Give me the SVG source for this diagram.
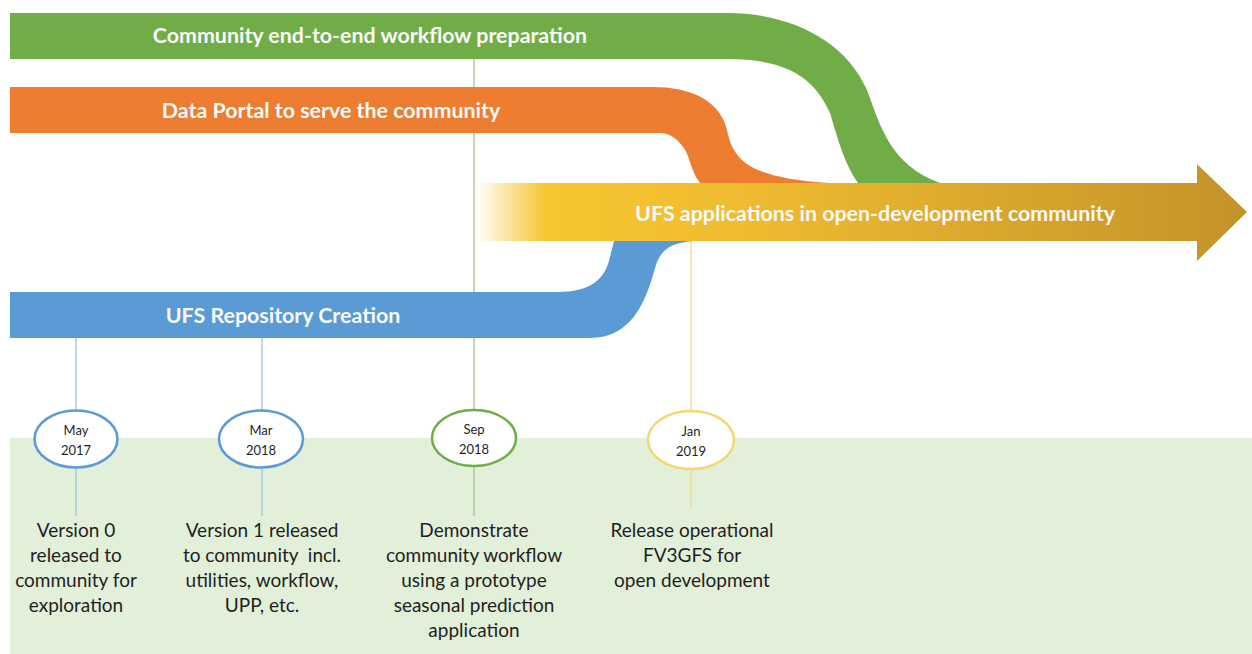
<svg xmlns="http://www.w3.org/2000/svg" width="1252" height="654" viewBox="0 0 1252 654">
<defs>
<linearGradient id="gold" x1="476" y1="0" x2="1247" y2="0" gradientUnits="userSpaceOnUse">
<stop offset="0" stop-color="#FFFFFF"/>
<stop offset="0.09" stop-color="#F7C631"/>
<stop offset="0.35" stop-color="#F0BB30"/>
<stop offset="1" stop-color="#C3932A"/>
</linearGradient>
<style>
.band{font-family:Lato,"Open Sans",sans-serif;font-weight:700;font-size:21.4px;fill:#FAFAFA;text-anchor:middle}
.date{font-family:Lato,"Open Sans",sans-serif;font-size:13px;fill:#1F1F1F;text-anchor:middle}
.desc{font-family:Lato,"Open Sans",sans-serif;font-size:19px;fill:#1F1F1F;text-anchor:middle}
.lnk{fill:none;stroke-width:1.3}
</style>
</defs>
<rect x="0" y="0" width="1252" height="654" fill="#FFFFFF"/>
<rect id="bg-green" x="10" y="438" width="1242" height="216" fill="#E2EFD9"/>
<g id="connectors">
<line class="lnk" x1="474" y1="59" x2="474" y2="410" stroke="#A3C48C"/>
<line class="lnk" x1="474" y1="466" x2="474" y2="516" stroke="#A3C48C"/>
<line class="lnk" x1="76" y1="338" x2="76" y2="410" stroke="#9DC3E6"/>
<line class="lnk" x1="76" y1="468" x2="76" y2="516" stroke="#9DC3E6"/>
<line class="lnk" x1="262" y1="338" x2="262" y2="410" stroke="#9DC3E6"/>
<line class="lnk" x1="262" y1="468" x2="262" y2="516" stroke="#9DC3E6"/>
<line class="lnk" x1="691" y1="241" x2="691" y2="411" stroke="#F5D98A"/>
<line class="lnk" x1="691" y1="469" x2="691" y2="508" stroke="#F5D98A"/>
</g>
<g id="green-band">
<path d="M10,13 H727 C790,13 845,40 867,90 C880,125 890,165 940,183 L858,183 C845,165 838,140 830,113 C815,80 790,59 727,59 H10 Z" fill="#70AD47"/>
<text class="band" x="370" y="43">Community end-to-end workflow preparation</text>
</g>
<g id="orange-band">
<path d="M10,87 H653 C690,87 720,100 727,130 C733,158 745,178 830,183 L700,183 C690,170 690,155 683,147 C676,137 668,133 660,133 H10 Z" fill="#ED7D31"/>
<text class="band" x="331" y="118">Data Portal to serve the community</text>
</g>
<g id="blue-band">
<path d="M10,292 H557 C590,292 605,280 610,257 L614,241 H693 C670,243 660,250 655,268 C645,305 630,338 590,338 H10 Z" fill="#5B9BD5"/>
<text class="band" x="283" y="323">UFS Repository Creation</text>
</g>
<g id="ufs-arrow">
<path d="M476,183 H1197 V164 L1247,212 L1197,261 V241 H476 Z" fill="url(#gold)"/>
<text class="band" x="875" y="221">UFS applications in open-development community</text>
</g>
<g id="m-may2017">
<ellipse cx="76" cy="439" rx="41.5" ry="28.5" fill="#FFFFFF" stroke="#5B9BD5" stroke-width="2.5"/>
<text class="date" x="76" y="435">May</text>
<text class="date" x="76" y="455">2017</text>
<text class="desc" x="76" y="537">Version 0</text>
<text class="desc" x="76" y="562">released to</text>
<text class="desc" x="76" y="587">community for</text>
<text class="desc" x="76" y="612">exploration</text>
</g>
<g id="m-mar2018">
<ellipse cx="261" cy="439" rx="42" ry="28.5" fill="#FFFFFF" stroke="#5B9BD5" stroke-width="2.5"/>
<text class="date" x="261" y="435">Mar</text>
<text class="date" x="261" y="455">2018</text>
<text class="desc" x="262" y="537">Version 1 released</text>
<text class="desc" x="262" y="562">to community&#160; incl.</text>
<text class="desc" x="262" y="587">utilities, workflow,</text>
<text class="desc" x="262" y="612">UPP, etc.</text>
</g>
<g id="m-sep2018">
<ellipse cx="474" cy="438" rx="42" ry="28" fill="#FFFFFF" stroke="#70AD47" stroke-width="2.5"/>
<text class="date" x="474" y="434">Sep</text>
<text class="date" x="474" y="454">2018</text>
<text class="desc" x="474" y="537">Demonstrate</text>
<text class="desc" x="474" y="562">community workflow</text>
<text class="desc" x="474" y="587">using a prototype</text>
<text class="desc" x="474" y="612">seasonal prediction</text>
<text class="desc" x="474" y="637">application</text>
</g>
<g id="m-jan2019">
<ellipse cx="691" cy="440" rx="43" ry="29" fill="#FFFFFF" stroke="#F6D66E" stroke-width="2.5"/>
<text class="date" x="691" y="436">Jan</text>
<text class="date" x="691" y="456">2019</text>
<text class="desc" x="692" y="537">Release operational</text>
<text class="desc" x="692" y="562">FV3GFS for</text>
<text class="desc" x="692" y="587">open development</text>
</g>
</svg>
